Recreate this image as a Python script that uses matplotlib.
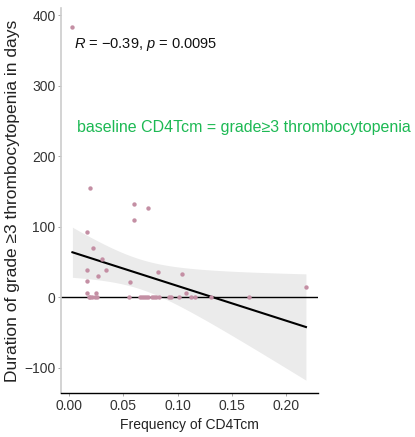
import matplotlib
matplotlib.use('Agg')
import matplotlib.pyplot as plt
import numpy as np

plt.rcParams['font.family'] = ['Liberation Sans', 'DejaVu Sans']
plt.rcParams['mathtext.fontset'] = 'custom'
plt.rcParams['mathtext.rm'] = 'Liberation Sans'
plt.rcParams['mathtext.it'] = 'Liberation Sans:italic'

# 读图得到的数据点
freq_nonzero = [0.003, 0.019, 0.016, 0.022, 0.030, 0.0335, 0.016, 0.016, 0.027,
                0.0596, 0.0596, 0.073, 0.0556, 0.082, 0.104, 0.218, 0.016, 0.025, 0.108]
days_nonzero = [383, 155, 93, 70, 54, 38, 38, 23, 30,
                132, 110, 126, 22, 35, 33, 15, 6, 6, 6]
freq_zero = [0.018, 0.019, 0.021, 0.024, 0.026, 0.055, 0.065, 0.067, 0.069, 0.071,
             0.073, 0.076, 0.078, 0.080, 0.083, 0.092, 0.094, 0.101, 0.112, 0.116,
             0.131, 0.166]

x = np.array(freq_nonzero + freq_zero)
y = np.array(days_nonzero + [0] * len(freq_zero), dtype=float)

# 线性回归 + 95% 置信区间
n = len(x)
slope, intercept = np.polyfit(x, y, 1)
resid = y - (slope * x + intercept)
s = np.sqrt(np.sum(resid ** 2) / (n - 2))
xs = np.linspace(x.min(), x.max(), 100)
ys = slope * xs + intercept
se = s * np.sqrt(1 / n + (xs - x.mean()) ** 2 / np.sum((x - x.mean()) ** 2))
tval = 2.023
lo, hi = ys - tval * se, ys + tval * se

fig = plt.figure(figsize=(4.15, 4.37), dpi=100)
ax = fig.add_axes([0.147, 0.1007, 0.619, 0.881])

ax.fill_between(xs, lo, hi, color='#EBEBEB', lw=0, zorder=1)
ax.axhline(0, color='black', lw=1, zorder=2)
ax.plot(xs, ys, color='black', lw=1.5, zorder=3)
ax.scatter(x, y, s=10, color='#C48FA4', lw=0, zorder=4)

ax.set_xlim(-0.0075, 0.229)
ax.set_ylim(-136, 410)
ax.set_xticks([0.00, 0.05, 0.10, 0.15, 0.20])
ax.set_xticklabels(['0.00', '0.05', '0.10', '0.15', '0.20'])
ax.set_yticks([-100, 0, 100, 200, 300, 400])
ax.tick_params(labelsize=10, colors='#333333', length=2, width=0.6, pad=2)
ax.tick_params(axis='both', color='#999999')

for side in ['top', 'right']:
    ax.spines[side].set_visible(False)
ax.spines['left'].set_color('#CCCCCC')
ax.spines['left'].set_linewidth(1.2)
ax.spines['bottom'].set_color('black')
ax.spines['bottom'].set_linewidth(1)

ax.set_xlabel('Frequency of CD4Tcm', fontsize=10, color='#222222', labelpad=4)
ax.set_ylabel('Duration of grade \u22653 thrombocytopenia in days', fontsize=12.5,
              color='#222222', labelpad=3)

ax.text(0.0045, 358, '$\\mathit{R}$ = \u22120.39, $\\mathit{p}$ = 0.0095', fontsize=10.5,
        color='#111111', va='center', ha='left')
ax.text(0.0075, 241, 'baseline CD4Tcm = grade\u22653 thrombocytopenia', fontsize=11.5,
        color='#1DB954', va='center', ha='left', clip_on=False)

fig.savefig('out.png', dpi=100)
